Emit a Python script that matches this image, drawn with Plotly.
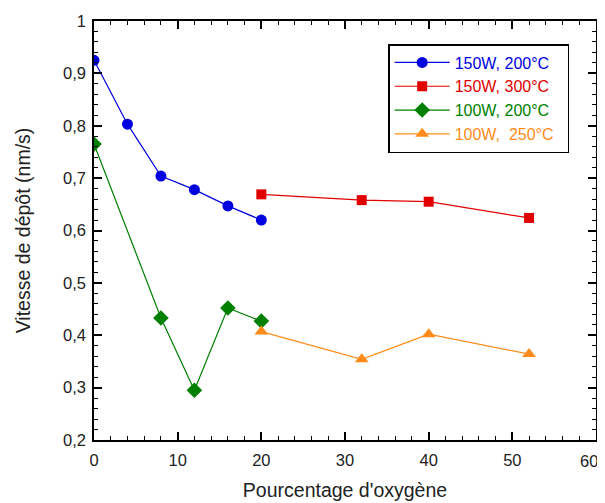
import plotly.graph_objects as go

x_150_200 = [0, 4, 8, 12, 16, 20]
y_150_200 = [0.925, 0.803, 0.704, 0.678, 0.647, 0.620]
x_150_300 = [20, 32, 40, 52]
y_150_300 = [0.669, 0.658, 0.655, 0.624]
x_100_200 = [0, 8, 12, 16, 20]
y_100_200 = [0.765, 0.433, 0.295, 0.452, 0.427]
x_100_250 = [20, 32, 40, 52]
y_100_250 = [0.407, 0.354, 0.402, 0.364]

x_tick_vals = [0, 10, 20, 30, 40, 50, 60]
x_tick_text = ["0", "10", "20", "30", "40", "50", "60"]
y_tick_vals = [0.2, 0.3, 0.4, 0.5, 0.6, 0.7, 0.8, 0.9, 1.0]
y_tick_text = ["0,2", "0,3", "0,4", "0,5", "0,6", "0,7", "0,8", "0,9", "1"]

series = [
    ("150W, 200°C", x_150_200, y_150_200, "#0000e0", "circle", 11),
    ("150W, 300°C", x_150_300, y_150_300, "#e00000", "square", 10),
    ("100W, 200°C", x_100_200, y_100_200, "#008000", "diamond", 12),
    ("100W,  250°C", x_100_250, y_100_250, "#ff8c1a", "triangle-up", 12),
]

FONT = "Liberation Sans, Arial"
TICKFONT = dict(family=FONT, size=16.5, color="#222")

fig = go.Figure()
for name, xs, ys, col, sym, sz in series:
    fig.add_trace(go.Scatter(
        x=xs, y=ys, mode="lines+markers",
        name=f'<span style="color:{col}">{name}&nbsp;&nbsp;</span>',
        line=dict(color=col, width=1.2),
        marker=dict(color=col, symbol=sym, size=sz),
    ))

axis_common = dict(
    showline=True, linecolor="black", linewidth=1.5, mirror="ticks",
    ticks="inside", ticklen=8, tickwidth=1.5, tickcolor="black",
    showgrid=False, zeroline=False, automargin=False,
    tickfont=TICKFONT,
)

# last x tick label drawn as an annotation so it stays inside the page edge
fig.update_xaxes(range=[0, 60], tickvals=x_tick_vals[:-1], ticktext=x_tick_text[:-1], ticklabelstandoff=4,
                 minor=dict(dtick=2, ticks="inside", ticklen=4, tickcolor="black", tickwidth=1.2),
                 title=dict(text="Pourcentage d'oxygène", font=dict(family=FONT, size=19.5, color="#222"), standoff=16),
                 **axis_common)
fig.add_annotation(x=x_tick_vals[-1], y=0, xref="x", yref="paper", text=x_tick_text[-1],
                   showarrow=False, xanchor="right", yanchor="middle", xshift=4, yshift=-21,
                   font=TICKFONT)
fig.update_yaxes(range=[0.2, 1.0], tickvals=y_tick_vals, ticktext=y_tick_text, ticklabelstandoff=3,
                 minor=dict(dtick=0.02, ticks="inside", ticklen=4, tickcolor="black", tickwidth=1.2),
                 title=dict(text="Vitesse de dépôt (nm/s)", font=dict(family=FONT, size=19.5, color="#222"), standoff=27),
                 **axis_common)

fig.update_layout(
    width=597, height=495,
    margin=dict(l=86, r=9, t=13, b=63),
    paper_bgcolor="white", plot_bgcolor="white",
    showlegend=True,
    legend=dict(x=0.586, y=0.945, xanchor="left", yanchor="top",
                bordercolor="black", borderwidth=1.5, bgcolor="white",
                font=dict(family=FONT, size=16),
                tracegroupgap=0, itemwidth=55),
)

fig.write_html("out.html")
